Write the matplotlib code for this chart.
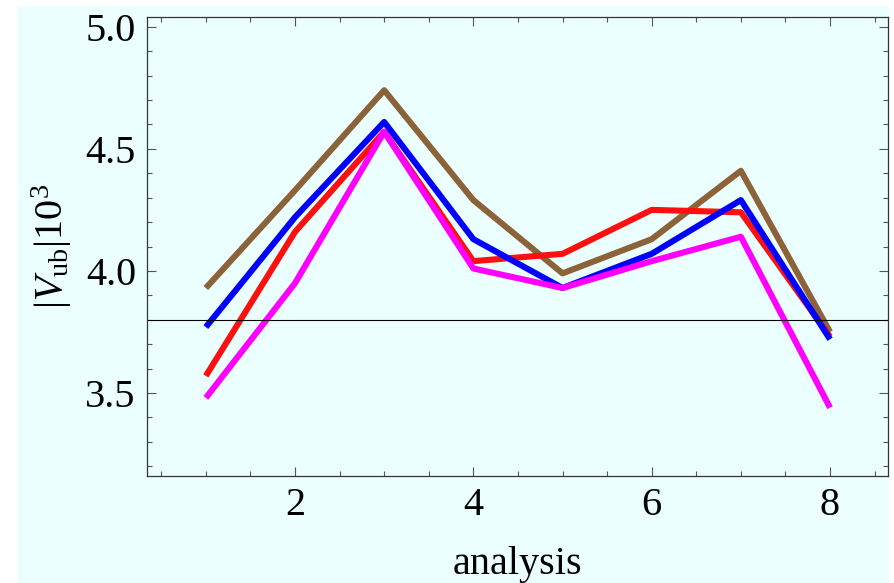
import numpy as np
import matplotlib
matplotlib.use("Agg")
import matplotlib.pyplot as plt
from matplotlib.patches import Rectangle
from matplotlib.ticker import MultipleLocator, FormatStrFormatter

plt.rcParams['font.family'] = ['Liberation Serif', 'DejaVu Serif']
plt.rcParams['mathtext.fontset'] = 'custom'
plt.rcParams['mathtext.rm'] = 'Liberation Serif'
plt.rcParams['mathtext.it'] = 'Liberation Serif:italic'

# data
analysis = [1, 2, 3, 4, 5, 6, 7, 8]
brown_vals = [3.93, 4.33, 4.74, 4.29, 3.99, 4.13, 4.41, 3.75]
red_vals = [3.57, 4.16, 4.57, 4.04, 4.07, 4.25, 4.24, 3.73]
blue_vals = [3.77, 4.22, 4.61, 4.13, 3.93, 4.07, 4.29, 3.72]
magenta_vals = [3.48, 3.95, 4.57, 4.01, 3.93, 4.04, 4.14, 3.44]
ref_line = 3.8

fig = plt.figure(figsize=(8.95, 5.83), dpi=100)
fig.patches.append(Rectangle((18 / 895, 0), (889 - 18) / 895, (583 - 6) / 583,
                             transform=fig.transFigure, facecolor='#ebffff',
                             edgecolor='none', zorder=-10))

ax = fig.add_axes([147 / 895, 1 - 476 / 583, (888 - 147) / 895, (476 - 17) / 583])
ax.set_facecolor('none')

lw = 4.4
ax.plot(analysis, brown_vals, color='#8c6239', lw=lw, solid_capstyle='butt')
ax.plot(analysis, red_vals, color='#ff1010', lw=lw, solid_capstyle='butt')
ax.plot(analysis, blue_vals, color='#0000ff', lw=lw, solid_capstyle='butt')
ax.plot(analysis, magenta_vals, color='#ff00ff', lw=lw, solid_capstyle='butt')
ax.axhline(ref_line, color='black', lw=0.8)

ax.set_xlim(0.34, 8.65)
ax.set_ylim(3.16, 5.04)
ax.xaxis.set_major_locator(MultipleLocator(2))
ax.xaxis.set_minor_locator(MultipleLocator(0.5))
ax.yaxis.set_major_locator(MultipleLocator(0.5))
ax.yaxis.set_minor_locator(MultipleLocator(0.1))
ax.yaxis.set_major_formatter(FormatStrFormatter('%.1f'))

ax.tick_params(which='both', direction='in', top=True, right=True,
               labeltop=False, labelright=False, color='#555555', width=0.8,
               labelsize=29, pad=8)
ax.tick_params(which='major', length=6.5)
ax.tick_params(which='minor', length=3.6)
for s in ax.spines.values():
    s.set_color('#333333')
    s.set_linewidth(0.9)

ax.set_xlabel('analysis', fontsize=29, labelpad=16)
ax.set_ylabel(r'$|V_{\rm ub}|10^3$', fontsize=29, labelpad=8)

fig.savefig('out.png', dpi=100)
